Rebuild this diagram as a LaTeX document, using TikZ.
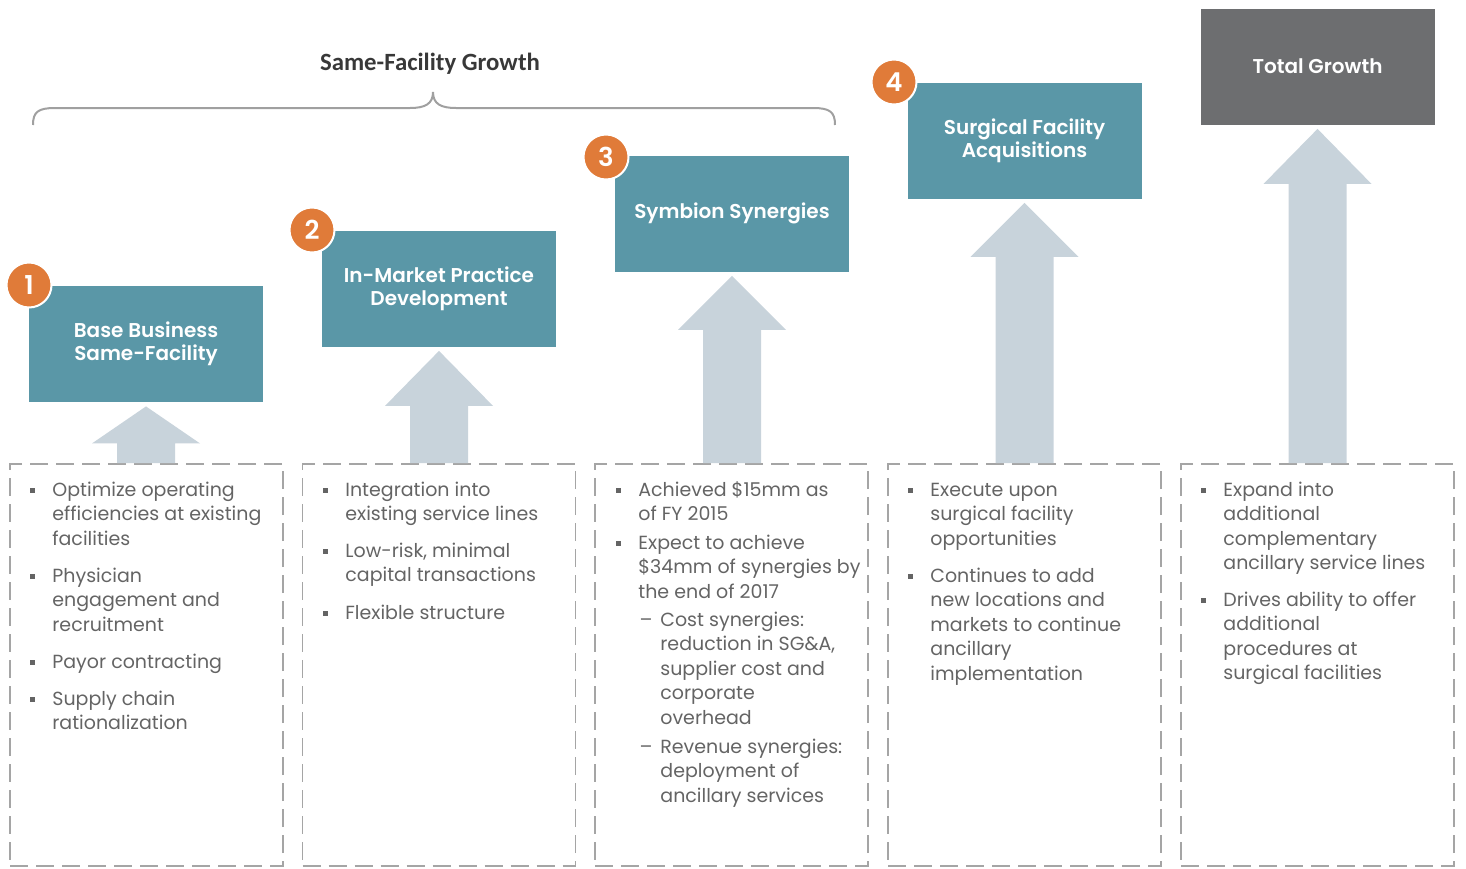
\documentclass[tikz,border=0pt]{standalone}
\usepackage{fontspec}
\setmainfont{Poppins}
\newfontfamily\carlito{Carlito}
\newfontfamily\popsemi{Poppins SemiBold}
\usetikzlibrary{calc}
\definecolor{tealc}{RGB}{90,151,167}
\definecolor{totalc}{RGB}{109,110,112}
\definecolor{orangec}{RGB}{224,123,57}
\definecolor{arrowc}{RGB}{200,211,219}
\definecolor{dashc}{RGB}{165,165,165}
\definecolor{textc}{RGB}{100,100,100}
\definecolor{titlec}{RGB}{56,56,56}
\definecolor{bracec}{RGB}{160,160,160}
\newcommand\bu{\llap{\raisebox{0.2em}{\rule{2.5pt}{2.5pt}}\hspace{8.75pt}}}
\newcommand\da{\llap{–\hspace{4pt}}}
\newcommand\blockarrow[3]{%
  \path ($(#2.south)+(0,4)$) coordinate (tip#1);
  \path (tip#1 |- #1.north) coordinate (base#1);
  \fill[arrowc] (tip#1) -- ($(tip#1)+(54,#3)$) -- ($(tip#1)+(29,#3)$)
    -- ($(base#1)+(29,0)$) -- ($(base#1)+(-29,0)$) -- ($(tip#1)+(-29,#3)$)
    -- ($(tip#1)+(-54,#3)$) -- cycle;}
\begin{document}
\begin{tikzpicture}[x=0.5pt,y=-0.5pt,
  tbox/.style={fill=tealc, text=white, font=\popsemi\fontsize{10}{11.5}\selectfont,
    align=center, minimum width=117pt, minimum height=58pt, inner sep=0},
  numc/.style={circle, fill=orangec, draw=white, line width=1pt, minimum size=22.5pt,
    text=white, font=\popsemi\fontsize{13}{13}\selectfont, inner sep=0},
  dbox/.style={draw=dashc, dash pattern=on 9pt off 4pt, line width=0.9pt,
    minimum width=136.5pt, minimum height=201pt, inner sep=0},
  item/.style={anchor=north west, align=left, inner sep=0, text=textc,
    font=\fontsize{9.5}{12.2}\selectfont}]
\useasboundingbox (0,0) rectangle (1466,868);

% title and brace
\node[font=\carlito\bfseries\fontsize{12.4}{13}\selectfont, text=titlec] (title) at (430,64) {Same-Facility Growth};
\draw[bracec, line width=1pt] (33,125) .. controls (33,112) and (38,108) .. (55,108) -- (410,108)
  .. controls (425,108) and (433,104) .. (433,92) .. controls (433,104) and (441,108) .. (456,108)
  -- (813,108) .. controls (830,108) and (835,112) .. (835,125);

% dashed columns
\node[dbox] (d1) at (146.5,665) {};
\node[dbox] (d2) at (439,665) {};
\node[dbox] (d3) at (731.5,665) {};
\node[dbox] (d4) at (1024.5,665) {};
\node[dbox] (d5) at (1317.5,665) {};

% headline boxes
\node[tbox] (b1) at (146,344) {Base Business\\Same-Facility};
\node[tbox] (b2) at (439,288.5) {In-Market Practice\\Development};
\node[tbox] (b3) at (732,213.5) {Symbion Synergies};
\node[tbox] (b4) at (1024.5,140.5) {Surgical Facility\\Acquisitions};
\node[tbox, fill=totalc] (b5) at (1317.5,66.5) {Total Growth};

% numbers
\node[numc] (n1) at (29,285) {1};
\node[numc] (n2) at (312,230) {2};
\node[numc] (n3) at (606,157) {3};
\node[numc] (n4) at (894,82) {4};

% arrows
\blockarrow{d1}{b1}{37}
\blockarrow{d2}{b2}{55}
\blockarrow{d3}{b3}{54}
\blockarrow{d4}{b4}{54}
\blockarrow{d5}{b5}{55}

% column 1
\node[item] (t11) at (52,479) {\strut\bu Optimize operating\\efficiencies at existing\\facilities};
\node[item] (t12) at (52,565) {\strut\bu Physician\\engagement and\\recruitment};
\node[item] (t13) at (52,651) {\strut\bu Payor contracting};
\node[item] (t14) at (52,688) {\strut\bu Supply chain\\rationalization};
% column 2
\node[item] (t21) at (345,479) {\strut\bu Integration into\\existing service lines};
\node[item] (t22) at (345,540) {\strut\bu Low-risk, minimal\\capital transactions};
\node[item] (t23) at (345,602) {\strut\bu Flexible structure};
% column 3
\node[item] (t31) at (638,479) {\strut\bu Achieved \$15mm as\\of FY 2015};
\node[item] (t32) at (638,532) {\strut\bu Expect to achieve\\\$34mm of synergies by\\the end of 2017};
\node[item] (t33) at (660,609) {\strut\da Cost synergies:\\reduction in SG\&A,\\supplier cost and\\corporate\\overhead};
\node[item] (t34) at (660,736) {\strut\da Revenue synergies:\\deployment of\\ancillary services};
% column 4
\node[item] (t41) at (930,479) {\strut\bu Execute upon\\surgical facility\\opportunities};
\node[item] (t42) at (930,565) {\strut\bu Continues to add\\new locations and\\markets to continue\\ancillary\\implementation};
% column 5
\node[item] (t51) at (1223,479) {\strut\bu Expand into\\additional\\complementary\\ancillary service  lines};
\node[item] (t52) at (1223,589) {\strut\bu Drives ability to offer\\additional\\procedures at\\surgical facilities};
\end{tikzpicture}
\end{document}
